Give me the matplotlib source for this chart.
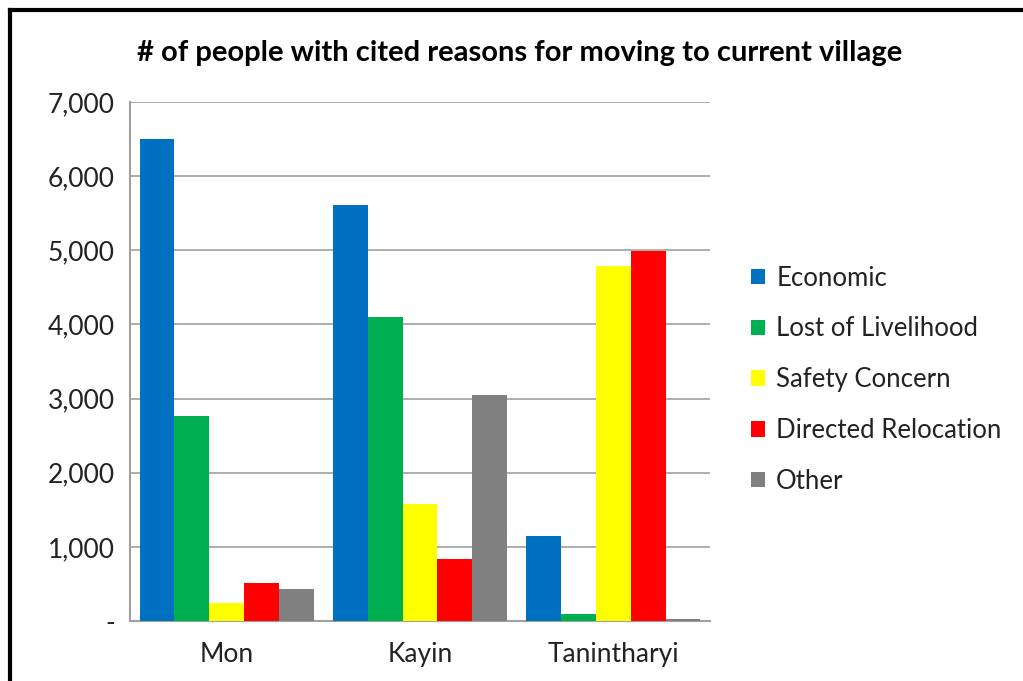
import numpy as np
import matplotlib.pyplot as plt
from matplotlib.lines import Line2D
from matplotlib.ticker import FuncFormatter

plt.rcParams['font.family'] = ['Lato', 'DejaVu Sans']

regions = ['Mon', 'Kayin', 'Tanintharyi']
reasons = ['Economic', 'Lost of Livelihood', 'Safety Concern', 'Directed Relocation', 'Other']
economic = [6500, 5610, 1150]
livelihood = [2760, 4100, 95]
safety = [240, 1580, 4790]
relocation = [510, 830, 4990]
other = [430, 3050, 25]
colors = ['#0070C0', '#00B050', '#FFFF00', '#FF0000', '#808080']

series = [economic, livelihood, safety, relocation, other]

fig = plt.figure(figsize=(10.23, 6.81), dpi=100)
ax = fig.add_axes([130 / 1023, 1 - 621 / 681, 580 / 1023, 519 / 681])

x = np.arange(len(regions))
width = 0.18
for i, (vals, name) in enumerate(zip(series, reasons)):
    ax.bar(x + (i - 2) * width, vals, width, color=colors[i], label=name, zorder=3)

ax.set_xlim(-0.5, 2.5)
ax.set_ylim(0, 7000)
ax.set_yticks(range(0, 7001, 1000))
ax.yaxis.set_major_formatter(FuncFormatter(lambda v, p: '-' if v == 0 else f'{int(v):,}'))
ax.set_xticks(x)
ax.set_xticklabels(regions)
ax.tick_params(axis='both', length=0, labelsize=19, colors='#222222')
ax.tick_params(axis='x', pad=15)
ax.tick_params(axis='y', pad=11)
ax.grid(axis='y', color='#A0A0A0', linewidth=1.2, zorder=0)
for side in ['top', 'right']:
    ax.spines[side].set_visible(False)
ax.spines['left'].set_color('#A0A0A0')
ax.spines['left'].set_linewidth(1.5)
ax.spines['bottom'].set_color('#A0A0A0')
ax.spines['bottom'].set_linewidth(1.5)

fig.text(0.508, 1 - 53 / 681, '# of people with cited reasons for moving to current village',
         ha='center', va='center', fontsize=21, fontweight='bold')

ax.legend(loc='center left', bbox_to_anchor=(1.03, 0.465), frameon=False, fontsize=18.5,
          handlelength=0.55, handleheight=0.55, handletextpad=0.45, labelspacing=1.0,
          labelcolor='#222222')

# outer frame (top and left edges visible)
fig.add_artist(Line2D([10 / 1023, 1.0], [1 - 10 / 681, 1 - 10 / 681], color='black', linewidth=3,
                      transform=fig.transFigure))
fig.add_artist(Line2D([10 / 1023, 10 / 1023], [0.0, 1 - 10 / 681], color='black', linewidth=3,
                      transform=fig.transFigure))

fig.savefig('out.png', dpi=100)
